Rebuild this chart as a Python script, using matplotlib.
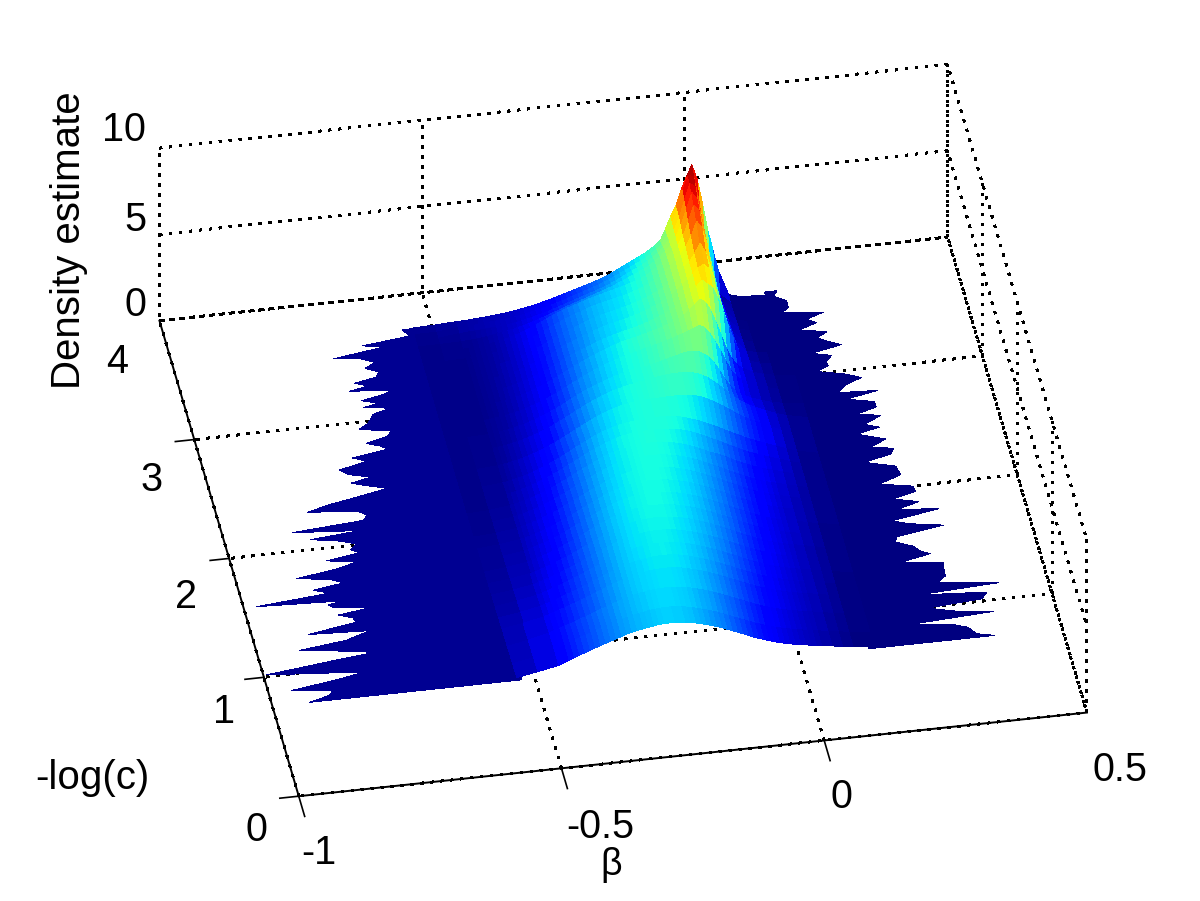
import numpy as np
import matplotlib
matplotlib.use("Agg")
import matplotlib.pyplot as plt
from matplotlib.colors import Normalize

beta_grid = [-.54,-.50,
 -.46,-.45,-.44,-.43,-.42,-.41,-.40,-.39,-.38,-.37,
 -.36,-.35,-.34,-.33,-.32,-.31,-.30,-.29,-.28,-.27,
 -.26,-.25,-.24,-.23,-.22,-.21,-.20,-.19,-.18,-.17,
 -.16,-.15,-.14,-.13,-.12,-.11,-.10,-.09,-.08,-.07,
 -.06,-.05,-.04,-.03,-.02,-.01,0,.01,.02,.03,
 .04,.06,.08,.10,.14]
logc_grid = [.68,.80,.95,1.10,1.20,1.30,1.40,1.50,1.60,1.70,1.80,1.90,2.00,2.10,2.20,2.30,2.45,2.60,2.72,2.84,2.96,3.06,3.16,3.26,3.36,3.44,3.50,3.55,3.60,3.65]
density = [
[.70,.92, 1.15,1.27,1.38,1.5,1.62,1.73,1.85,1.95,2.05,2.15, 2.25,2.35,2.45,2.55,2.62,2.7,2.75,2.8,2.85,2.9, 2.92,2.93,2.93,2.91,2.88,2.83,2.77,2.7,2.62,2.54, 2.44,2.34,2.22,2.1,1.98,1.86,1.73,1.6,1.5,1.4, 1.3,1.2,1.12,1.05,.98,.92,.87,.82,.77,.72, .68,.6,.5,.42,.3],
[.68,.9, 1.18,1.3,1.42,1.54,1.66,1.78,1.9,2.0,2.1,2.2, 2.3,2.4,2.5,2.6,2.68,2.75,2.81,2.87,2.92,2.96, 2.99,3.0,3.0,2.98,2.95,2.9,2.84,2.76,2.68,2.59, 2.5,2.4,2.28,2.16,2.04,1.92,1.8,1.68,1.56,1.46, 1.36,1.26,1.18,1.1,1.03,.97,.91,.86,.81,.76, .71,.62,.52,.44,.31],
[.65,.88, 1.18,1.28,1.38,1.48,1.58,1.68,1.79,1.9,2.0,2.12, 2.24,2.35,2.46,2.56,2.66,2.75,2.83,2.9,2.96,3.01, 3.04,3.06,3.07,3.07,3.05,3.02,2.97,2.9,2.82,2.74, 2.65,2.55,2.44,2.32,2.2,2.08,1.96,1.84,1.72,1.6, 1.48,1.38,1.28,1.2,1.12,1.05,.99,.93,.87,.82, .77,.67,.56,.46,.32],
[.62,.82, 1.08,1.18,1.28,1.38,1.48,1.59,1.7,1.81,1.93,2.05, 2.17,2.29,2.41,2.52,2.63,2.73,2.83,2.91,2.98,3.04, 3.09,3.12,3.14,3.15,3.14,3.11,3.07,3.0,2.93,2.85, 2.76,2.66,2.55,2.44,2.32,2.2,2.08,1.95,1.83,1.71, 1.59,1.48,1.38,1.28,1.19,1.11,1.04,.97,.91,.85, .8,.7,.58,.47,.33],
[.58,.76, 1.0,1.1,1.2,1.3,1.41,1.52,1.63,1.75,1.87,2.0, 2.13,2.25,2.38,2.5,2.62,2.73,2.83,2.92,3.0,3.06, 3.11,3.15,3.18,3.2,3.19,3.17,3.13,3.07,3.0,2.92, 2.83,2.74,2.63,2.52,2.4,2.28,2.16,2.03,1.9,1.78, 1.66,1.54,1.43,1.33,1.23,1.15,1.07,1.0,.93,.87, .82,.71,.59,.48,.33],
[.55,.72, .95,1.04,1.14,1.24,1.35,1.46,1.58,1.7,1.83,1.96, 2.09,2.22,2.35,2.48,2.6,2.72,2.83,2.93,3.01,3.08, 3.14,3.18,3.21,3.22,3.22,3.2,3.17,3.12,3.05,2.98, 2.89,2.8,2.7,2.59,2.48,2.36,2.24,2.11,1.98,1.85, 1.72,1.6,1.49,1.38,1.28,1.19,1.1,1.03,.96,.9, .84,.73,.6,.49,.34],
[.52,.68, .88,.97,1.07,1.17,1.28,1.4,1.52,1.64,1.77,1.91, 2.05,2.19,2.33,2.47,2.6,2.72,2.84,2.94,3.03,3.1, 3.16,3.2,3.23,3.25,3.25,3.24,3.21,3.17,3.11,3.04, 2.96,2.87,2.77,2.67,2.56,2.44,2.32,2.19,2.06,1.93, 1.8,1.67,1.55,1.44,1.33,1.23,1.14,1.06,.99,.92, .86,.74,.61,.5,.34],
[.5,.62, .82,.9,1.0,1.1,1.21,1.33,1.45,1.58,1.71,1.85, 2.0,2.14,2.29,2.43,2.57,2.7,2.82,2.93,3.03,3.11, 3.17,3.22,3.26,3.28,3.29,3.28,3.26,3.22,3.17,3.11, 3.03,2.95,2.85,2.75,2.64,2.52,2.4,2.27,2.14,2.0, 1.87,1.74,1.61,1.49,1.38,1.27,1.17,1.09,1.01,.94, .88,.76,.63,.51,.35],
[.48,.6, .78,.86,.95,1.05,1.16,1.27,1.39,1.52,1.66,1.8, 1.95,2.1,2.25,2.4,2.54,2.68,2.81,2.93,3.03,3.12, 3.19,3.24,3.28,3.3,3.31,3.3,3.28,3.25,3.21,3.15, 3.08,3.0,2.91,2.81,2.7,2.58,2.46,2.33,2.2,2.07, 1.93,1.8,1.67,1.54,1.42,1.31,1.21,1.12,1.04,.97, .9,.78,.64,.52,.35],
[.46,.57, .74,.82,.91,1.0,1.1,1.21,1.33,1.46,1.6,1.75, 1.9,2.05,2.2,2.35,2.5,2.64,2.77,2.9,3.01,3.1, 3.18,3.24,3.28,3.31,3.32,3.32,3.31,3.28,3.24,3.19, 3.12,3.05,2.96,2.86,2.75,2.63,2.51,2.38,2.25,2.12, 1.98,1.85,1.72,1.59,1.47,1.36,1.25,1.15,1.06,.99, .92,.8,.66,.53,.35],
[.45,.55, .72,.79,.87,.96,1.06,1.17,1.29,1.42,1.55,1.7, 1.85,2.0,2.15,2.3,2.45,2.6,2.74,2.87,2.98,3.08, 3.16,3.23,3.28,3.31,3.33,3.34,3.33,3.31,3.28,3.23, 3.17,3.1,3.02,2.92,2.81,2.69,2.57,2.44,2.31,2.18, 2.04,1.9,1.77,1.64,1.52,1.4,1.29,1.19,1.1,1.02, .95,.82,.67,.54,.36],
[.44,.52, .68,.75,.83,.92,1.01,1.12,1.24,1.37,1.5,1.65, 1.8,1.95,2.1,2.25,2.4,2.55,2.69,2.83,2.95,3.05, 3.14,3.21,3.26,3.3,3.33,3.35,3.35,3.34,3.31,3.27, 3.22,3.15,3.07,2.98,2.87,2.76,2.64,2.51,2.38,2.25, 2.11,1.97,1.83,1.7,1.57,1.45,1.33,1.23,1.13,1.05, .97,.83,.68,.55,.36],
[.43,.5, .65,.72,.79,.87,.96,1.07,1.18,1.31,1.44,1.59, 1.74,1.89,2.05,2.2,2.35,2.5,2.65,2.79,2.92,3.03, 3.12,3.2,3.26,3.3,3.34,3.36,3.37,3.37,3.35,3.32, 3.27,3.21,3.14,3.05,2.95,2.84,2.72,2.59,2.45,2.31, 2.17,2.03,1.89,1.75,1.61,1.49,1.37,1.26,1.16,1.08, 1.0,.85,.7,.55,.36],
[.41,.46, .62,.68,.75,.83,.92,1.02,1.13,1.25,1.38,1.53, 1.68,1.83,1.99,2.15,2.3,2.45,2.6,2.74,2.88,3.0, 3.1,3.18,3.25,3.3,3.34,3.37,3.39,3.39,3.38,3.36, 3.32,3.27,3.2,3.12,3.02,2.91,2.79,2.66,2.52,2.4, 2.3,2.15,2.0,1.85,1.72,1.59,1.47,1.35,1.25,1.15, 1.07,.9,.73,.57,.36],
[.41,.45, .59,.64,.71,.78,.86,.96,1.07,1.19,1.32,1.46, 1.6,1.75,1.91,2.07,2.22,2.38,2.54,2.68,2.82,2.95, 3.06,3.16,3.24,3.3,3.35,3.38,3.4,3.41,3.41,3.4, 3.38,3.37,3.34,3.28,3.2,3.1,3.0,2.86,2.72,2.58, 2.45,2.3,2.15,2.0,1.85,1.71,1.58,1.46,1.35,1.25, 1.15,.95,.76,.58,.35],
[.41,.44, .56,.61,.67,.74,.82,.91,1.01,1.13,1.26,1.39, 1.53,1.68,1.84,2.0,2.16,2.32,2.48,2.63,2.77,2.9, 3.01,3.1,3.18,3.24,3.29,3.33,3.36,3.38,3.4,3.41, 3.42,3.41,3.39,3.35,3.28,3.2,3.1,3.0,2.88,2.74, 2.6,2.47,2.32,2.17,2.02,1.88,1.74,1.6,1.48,1.36, 1.25,1.02,.8,.6,.35],
[.41,.43, .52,.56,.61,.67,.74,.82,.91,1.01,1.12,1.24, 1.37,1.51,1.66,1.82,1.98,2.14,2.3,2.46,2.61,2.75, 2.88,3.0,3.1,3.19,3.26,3.32,3.37,3.41,3.43,3.44, 3.45,3.46,3.47,3.48,3.48,3.48,3.46,3.42,3.34,3.24, 3.1,2.95,2.78,2.6,2.4,2.2,2.0,1.83,1.68,1.54, 1.4,1.12,.84,.6,.35],
[.41,.42, .49,.52,.56,.61,.67,.74,.82,.91,1.01,1.12, 1.24,1.37,1.51,1.66,1.82,1.98,2.14,2.3,2.46,2.6, 2.74,2.87,2.98,3.08,3.16,3.24,3.31,3.37,3.43,3.49, 3.55,3.6,3.64,3.67,3.7,3.72,3.72,3.7,3.66,3.58, 3.45,3.28,3.06,2.82,2.56,2.28,2.02,1.78,1.58,1.42, 1.28,1.02,.78,.6,.35],
[.41,.42, .47,.5,.54,.58,.64,.7,.77,.85,.95,1.05, 1.16,1.28,1.42,1.56,1.71,1.87,2.03,2.19,2.35,2.5, 2.6,2.72,2.84,2.95,3.05,3.14,3.22,3.29,3.36,3.4, 3.42,3.5,3.58,3.66,3.74,3.82,3.9,3.98,4.03,4.05, 4.0,3.85,3.62,3.28,2.82,2.3,1.85,1.55,1.3,1.12, 1.0,.78,.6,.48,.33],
[.41,.42, .46,.49,.52,.56,.61,.66,.73,.8,.89,.99, 1.09,1.2,1.33,1.47,1.62,1.77,1.93,2.09,2.25,2.4, 2.54,2.68,2.81,2.93,3.04,3.14,3.24,3.33,3.42,3.5, 3.58,3.66,3.74,3.82,3.9,3.98,4.07,4.17,4.28,4.4, 4.5,4.65,4.5,4.15,3.65,3.1,2.5,1.9,1.5,1.25, 1.08,.82,.62,.48,.33],
[.41,.42, .45,.48,.51,.55,.59,.64,.7,.77,.85,.94, 1.04,1.15,1.27,1.41,1.56,1.71,1.87,2.03,2.18,2.33, 2.47,2.61,2.74,2.87,2.99,3.1,3.2,3.3,3.38,3.45, 3.52,3.6,3.68,3.76,3.85,3.95,4.06,4.18,4.32,4.5, 4.74,5.05,5.3,5.1,4.6,3.9,3.1,2.3,1.7,1.3, 1.05,.76,.57,.45,.32],
[.41,.42, .45,.47,.5,.54,.58,.63,.68,.75,.83,.92, 1.02,1.13,1.25,1.38,1.52,1.67,1.83,1.99,2.14,2.27, 2.38,2.5,2.62,2.74,2.85,2.95,3.04,3.12,3.2,3.27, 3.34,3.43,3.52,3.62,3.73,3.85,3.98,4.13,4.3,4.5, 4.75,5.0,5.35,5.7,5.45,5.2,4.6,3.8,2.9,2.1, 1.4,.72,.52,.42,.3],
[.41,.42, .45,.47,.5,.53,.57,.62,.67,.74,.81,.9, 1.0,1.1,1.22,1.35,1.49,1.64,1.8,1.96,2.1,2.23, 2.35,2.47,2.59,2.7,2.8,2.9,2.98,3.06,3.13,3.2, 3.27,3.36,3.46,3.56,3.68,3.81,3.96,4.13,4.32,4.55, 4.85,5.1,5.4,5.7,5.9,5.6,4.9,3.9,2.85,1.95, 1.25,.62,.44,.36,.27],
[.42,.43, .45,.47,.5,.53,.57,.61,.66,.72,.79,.88, .98,1.08,1.2,1.33,1.47,1.62,1.77,1.93,2.06,2.18, 2.3,2.42,2.54,2.66,2.76,2.85,2.93,3.0,3.07,3.14, 3.21,3.3,3.4,3.5,3.62,3.76,3.92,4.1,4.3,4.55, 4.85,5.15,5.4,5.9,6.4,5.9,5.0,3.8,2.7,1.8, 1.15,.55,.38,.32,.26],
[.42,.43, .45,.47,.5,.53,.56,.6,.65,.71,.78,.87, .96,1.06,1.18,1.3,1.44,1.59,1.74,1.88,2.02,2.14, 2.25,2.37,2.49,2.6,2.7,2.78,2.86,2.93,3.0,3.07, 3.14,3.22,3.32,3.42,3.54,3.68,3.85,4.05,4.28,4.55, 4.9,5.2,5.6,6.2,7.0,6.6,5.6,4.2,2.9,1.8, 1.1,.5,.34,.3,.26],
[.43,.44, .46,.48,.5,.53,.56,.6,.65,.71,.78,.86, .95,1.05,1.17,1.29,1.42,1.56,1.71,1.85,1.98,2.09, 2.2,2.3,2.4,2.5,2.6,2.68,2.76,2.84,2.92,3.0, 3.08,3.16,3.26,3.36,3.48,3.62,3.8,4.02,4.26,4.55, 4.92,5.2,5.7,6.5,7.4,7.0,5.8,4.3,2.9,1.75, 1.0,.46,.33,.29,.25],
[.44,.45, .47,.49,.51,.54,.57,.61,.66,.71,.78,.84, .88,.95,1.03,1.12,1.21,1.31,1.41,1.52,1.63,1.74, 1.85,1.95,2.05,2.15,2.25,2.35,2.45,2.55,2.66,2.77, 2.9,3.03,3.17,3.3,3.44,3.58,3.74,3.94,4.18,4.46, 4.8,5.25,5.9,6.8,7.7,7.3,6.0,4.4,2.9,1.7, .95,.42,.31,.28,.25],
[.45,.46, .6,.62,.64,.66,.68,.7,.73,.76,.79,.82, .85,.9,.96,1.03,1.1,1.18,1.26,1.35,1.44,1.54, 1.64,1.74,1.84,1.94,2.04,2.14,2.24,2.34,2.46,2.58, 2.72,2.87,3.02,3.17,3.32,3.47,3.64,3.84,4.08,4.36, 4.75,5.3,6.0,7.0,7.9,7.6,6.2,4.5,2.9,1.65, .9,.4,.3,.27,.25],
[.46,.47, .6,.61,.62,.64,.67,.69,.72,.74,.77,.8, .83,.87,.92,.98,1.04,1.11,1.18,1.26,1.34,1.43, 1.52,1.62,1.72,1.82,1.92,2.02,2.12,2.22,2.34,2.47, 2.6,2.75,2.9,3.05,3.2,3.35,3.5,3.7,3.92,4.2, 4.7,5.35,6.1,7.2,8.0,7.9,6.5,4.6,3.0,1.7, .9,.38,.29,.26,.25],
[.5,.54, .6,.61,.62,.64,.66,.68,.7,.73,.76,.79, .83,.87,.92,.97,1.03,1.09,1.16,1.24,1.32,1.4, 1.49,1.58,1.67,1.76,1.85,1.94,2.03,2.13,2.24,2.36, 2.5,2.65,2.8,2.95,3.1,3.25,3.4,3.6,3.8,4.05, 4.7,5.4,6.0,6.9,7.6,8.25,7.4,6.0,4.4,3.2, 2.0,.5,.32,.28,.24],
]

left_logc = [.686,.726,.766,.798,.846,.886,.921,.947,1.006,1.038,1.086,1.118,1.160,1.219,1.240,1.299,1.338,1.373,1.405,1.437,1.464,1.485,1.512,1.560,1.597,1.631,1.671,1.706,1.751,1.791,1.825,1.863,1.897,1.937,1.977,2.012,2.044,2.085,2.124,2.164,2.204,2.238,2.283,2.324,2.364,2.403,2.438,2.470,2.510,2.556,2.603,2.643,2.683,2.715,2.749,2.790,2.829,2.870,2.909,2.949,2.981,3.016,3.042,3.068,3.102,3.135,3.162,3.189,3.216,3.250,3.282,3.322,3.362,3.402,3.442,3.468,3.522,3.548,3.588,3.645]
left_beta = [-.934,-.893,-.884,-.961,-.873,-.816,-.919,-.999,-.866,-.787,-.863,-.925,-.833,-.784,-.900,-.805,-.808,-.834,-.772,-.839,-.847,-.817,-.980,-.838,-.867,-.807,-.830,-.891,-.811,-.771,-.826,-.760,-.776,-.761,-.793,-.844,-.748,-.875,-.736,-.726,-.743,-.835,-.789,-.729,-.675,-.710,-.739,-.699,-.738,-.753,-.697,-.723,-.653,-.664,-.690,-.646,-.637,-.695,-.676,-.667,-.661,-.624,-.676,-.646,-.675,-.629,-.614,-.692,-.655,-.678,-.635,-.628,-.651,-.629,-.652,-.704,-.602,-.644,-.552,-.561]
right_logc = [.670,.699,.759,.794,.832,.867,.903,.951,.980,1.030,1.066,1.097,1.148,1.198,1.266,1.310,1.349,1.393,1.422,1.467,1.517,1.561,1.614,1.655,1.694,1.752,1.782,1.827,1.871,1.915,1.959,2.004,2.062,2.136,2.195,2.239,2.283,2.313,2.367,2.431,2.469,2.505,2.564,2.593,2.637,2.682,2.726,2.770,2.785,2.844,2.889,2.933,2.977,3.013,3.051,3.095,3.130,3.175,3.212,3.251,3.292,3.331,3.376,3.411,3.455,3.487,3.522,3.582,3.626,3.670]
right_beta = [.369,.336,.324,.298,.218,.379,.309,.258,.365,.378,.247,.404,.290,.310,.311,.314,.237,.294,.277,.267,.236,.242,.334,.271,.241,.334,.257,.301,.254,.301,.298,.237,.282,.278,.221,.275,.284,.242,.274,.222,.268,.242,.278,.233,.274,.273,.222,.286,.211,.230,.262,.233,.182,.207,.206,.219,.183,.243,.220,.201,.223,.174,.209,.192,.227,.150,.165,.166,.144,.153]

x_ticks = [-1, -0.5, 0, 0.5]
x_tick_labels = ['-1', '-0.5', '0', '0.5']
y_ticks = [0, 1, 2, 3, 4]
y_tick_labels = ['0', '1', '2', '3', '4']
z_ticks = [0, 5, 10]
z_tick_labels = ['0', '5', '10']

W, H = 1200, 901
FONT = 'Liberation Sans'

fig = plt.figure(figsize=(W / 100, H / 100), dpi=100, facecolor='white')
ax = fig.add_axes([11 / W, 8 / H, 1, 1], projection='3d', proj_type='ortho',
                  computed_zorder=False)
ax.set_xlim(-1, 0.5)
ax.set_ylim(0, 4)
ax.set_zlim(0, 10)
ax.view_init(elev=37, azim=-100)
ax.set_box_aspect((800, 802, 216), zoom=1.243)
ax.patch.set_alpha(0)

norm = Normalize(vmin=0.35, vmax=8.3)
surf_kw = dict(rstride=1, cstride=1, cmap='jet', norm=norm, linewidth=0,
               antialiased=False, shade=False)


def fringe(edge, rows, inner, level):
    e = np.asarray(edge, float)
    r = np.asarray(rows, float)
    X = np.column_stack([e, np.full_like(e, inner)])
    Y = np.column_stack([r, r])
    Z = np.full_like(X, level)
    ax.plot_surface(X, Y, Z, zorder=3, **surf_kw)


fringe(left_beta, left_logc, -0.53, 0.5)
fringe(right_beta, right_logc, 0.13, 0.28)
B, L = np.meshgrid(beta_grid, logc_grid)
ax.plot_surface(B, L, np.array(density), zorder=4, **surf_kw)

ax.set_xticks(x_ticks)
ax.set_yticks(y_ticks)
ax.set_zticks(z_ticks)
ax.set_xticklabels([])
ax.set_yticklabels([])
ax.set_zticklabels([])
for axis in (ax.xaxis, ax.yaxis, ax.zaxis):
    axis.set_pane_color((1, 1, 1, 0))
    axis.pane.set_edgecolor((1, 1, 1, 0))
    axis.line.set_color('k')
    axis.line.set_linewidth(1.4)
    info = axis._axinfo
    info['grid'].update(color='k', linewidth=1.2, linestyle=(0, (1.3, 4.46)))
    info['tick'].update(inward_factor=0.0, outward_factor=0.0,
                        linewidth={True: 0.0, False: 0.0}, color='k')
    axis.gridlines.set_antialiased(False)
ax.zaxis.line.set_visible(False)

# solid z axis and outward ticks, as MATLAB draws them
ax.plot([-1, -1], [4, 4], [0, 10], color='k', lw=1.4, zorder=2)
for z in z_ticks:
    ax.plot([-1, -1], [4, 4.15], [z, z], color='k', lw=1.2, zorder=2)
for x in x_ticks:
    ax.plot([x, x], [0, -0.17], [0, 0], color='k', lw=1.2, zorder=2)
for y in y_ticks:
    ax.plot([-1, -1.036], [y, y], [0, 0], color='k', lw=1.2, zorder=2)


def label(px, py, s, fs, **kw):
    fig.text(px / W, 1 - py / H, s, family=FONT, fontsize=fs, color='k', **kw)


for px, py, s in zip([301, 566, 830, 1093], [853, 827, 797, 770], x_tick_labels):
    label(px, py, s, 28.5, ha='left', va='center')
for px, py, s in zip([256, 224, 186, 152, 117], [830, 712, 597, 480, 362], y_tick_labels):
    label(px, py, s, 28.5, ha='center', va='center')
for px, py, s in zip([146, 146, 146], [305, 220, 130], z_tick_labels):
    label(px, py, s, 28.5, ha='right', va='center')
label(611, 865, 'β', 27, ha='center', va='center')
label(92, 778, '-log(c)', 29, ha='center', va='center')
label(69, 240, 'Density estimate', 29, ha='center', va='center', rotation=90)

fig.savefig('out.png', dpi=100)
